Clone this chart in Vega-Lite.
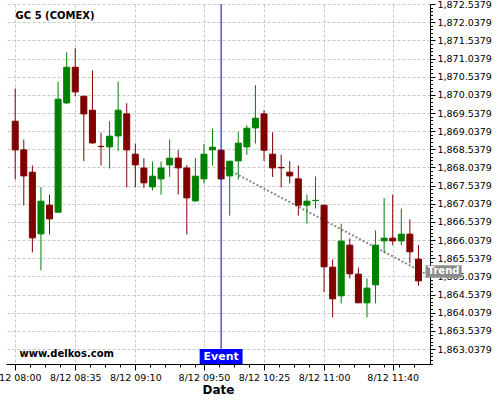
{
  "$schema": "https://vega.github.io/schema/vega-lite/v6.json",
  "width": 424,
  "height": 360,
  "autosize": {"type": "none"},
  "padding": {"left": 6, "top": 4, "right": 70, "bottom": 36},
  "background": "white",
  "config": {
    "view": {"stroke": null},
    "font": "DejaVu Sans",
    "axis": {"labelFont": "DejaVu Sans", "titleFont": "DejaVu Sans"}
  },
  "datasets": {
    "candles": [
      {"time": "2024-08-12T08:00", "open": 1869.312, "high": 1870.212, "low": 1867.707, "close": 1868.522},
      {"time": "2024-08-12T08:05", "open": 1868.522, "high": 1868.808, "low": 1866.992, "close": 1867.806},
      {"time": "2024-08-12T08:10", "open": 1867.908, "high": 1868.093, "low": 1865.698, "close": 1866.100},
      {"time": "2024-08-12T08:15", "open": 1866.210, "high": 1867.495, "low": 1865.203, "close": 1867.110},
      {"time": "2024-08-12T08:20", "open": 1867.000, "high": 1867.294, "low": 1866.193, "close": 1866.623},
      {"time": "2024-08-12T08:25", "open": 1866.807, "high": 1870.405, "low": 1866.788, "close": 1869.918},
      {"time": "2024-08-12T08:30", "open": 1869.816, "high": 1871.211, "low": 1869.788, "close": 1870.798},
      {"time": "2024-08-12T08:35", "open": 1870.798, "high": 1871.321, "low": 1870.000, "close": 1870.119},
      {"time": "2024-08-12T08:40", "open": 1870.000, "high": 1870.000, "low": 1868.211, "close": 1869.513},
      {"time": "2024-08-12T08:45", "open": 1869.615, "high": 1870.708, "low": 1868.687, "close": 1868.715},
      {"time": "2024-08-12T08:50", "open": 1868.620, "high": 1869.001, "low": 1868.093, "close": 1868.612},
      {"time": "2024-08-12T08:55", "open": 1868.605, "high": 1869.312, "low": 1868.010, "close": 1868.899},
      {"time": "2024-08-12T09:00", "open": 1868.907, "high": 1870.405, "low": 1868.495, "close": 1869.615},
      {"time": "2024-08-12T09:05", "open": 1869.513, "high": 1869.807, "low": 1867.487, "close": 1868.522},
      {"time": "2024-08-12T09:10", "open": 1868.404, "high": 1868.698, "low": 1867.487, "close": 1868.109},
      {"time": "2024-08-12T09:15", "open": 1868.023, "high": 1868.294, "low": 1867.476, "close": 1867.614},
      {"time": "2024-08-12T09:20", "open": 1867.504, "high": 1868.203, "low": 1867.405, "close": 1867.798},
      {"time": "2024-08-12T09:25", "open": 1867.724, "high": 1868.203, "low": 1867.289, "close": 1868.023},
      {"time": "2024-08-12T09:30", "open": 1868.109, "high": 1868.808, "low": 1867.779, "close": 1868.294},
      {"time": "2024-08-12T09:35", "open": 1868.294, "high": 1868.514, "low": 1867.294, "close": 1868.027},
      {"time": "2024-08-12T09:40", "open": 1868.023, "high": 1868.101, "low": 1866.193, "close": 1867.201},
      {"time": "2024-08-12T09:45", "open": 1867.118, "high": 1868.294, "low": 1867.091, "close": 1867.798},
      {"time": "2024-08-12T09:50", "open": 1867.724, "high": 1868.693, "low": 1867.597, "close": 1868.404},
      {"time": "2024-08-12T09:55", "open": 1868.522, "high": 1869.111, "low": 1868.093, "close": 1868.596},
      {"time": "2024-08-12T10:00", "open": 1868.514, "high": 1868.514, "low": 1867.700, "close": 1867.724},
      {"time": "2024-08-12T10:05", "open": 1867.806, "high": 1868.211, "low": 1866.711, "close": 1868.211},
      {"time": "2024-08-12T10:10", "open": 1868.219, "high": 1869.018, "low": 1867.707, "close": 1868.707},
      {"time": "2024-08-12T10:15", "open": 1868.605, "high": 1869.202, "low": 1868.390, "close": 1869.119},
      {"time": "2024-08-12T10:20", "open": 1869.128, "high": 1870.303, "low": 1868.698, "close": 1869.395},
      {"time": "2024-08-12T10:25", "open": 1869.513, "high": 1869.615, "low": 1868.219, "close": 1868.514},
      {"time": "2024-08-12T10:30", "open": 1868.404, "high": 1869.009, "low": 1867.779, "close": 1868.027},
      {"time": "2024-08-12T10:35", "open": 1868.038, "high": 1868.390, "low": 1867.487, "close": 1868.030},
      {"time": "2024-08-12T10:40", "open": 1867.908, "high": 1868.211, "low": 1867.597, "close": 1867.806},
      {"time": "2024-08-12T10:45", "open": 1867.724, "high": 1868.093, "low": 1866.711, "close": 1867.000},
      {"time": "2024-08-12T10:50", "open": 1867.000, "high": 1867.294, "low": 1866.491, "close": 1867.110},
      {"time": "2024-08-12T10:55", "open": 1867.125, "high": 1867.790, "low": 1866.909, "close": 1867.133},
      {"time": "2024-08-12T11:00", "open": 1867.000, "high": 1867.000, "low": 1864.605, "close": 1865.302},
      {"time": "2024-08-12T11:05", "open": 1865.293, "high": 1865.505, "low": 1863.909, "close": 1864.421},
      {"time": "2024-08-12T11:10", "open": 1864.503, "high": 1866.491, "low": 1864.294, "close": 1866.009},
      {"time": "2024-08-12T11:15", "open": 1865.899, "high": 1866.083, "low": 1864.982, "close": 1865.109},
      {"time": "2024-08-12T11:20", "open": 1865.101, "high": 1865.285, "low": 1864.311, "close": 1864.311},
      {"time": "2024-08-12T11:25", "open": 1864.311, "high": 1864.982, "low": 1863.909, "close": 1864.715},
      {"time": "2024-08-12T11:30", "open": 1864.806, "high": 1866.304, "low": 1864.294, "close": 1865.899},
      {"time": "2024-08-12T11:35", "open": 1866.017, "high": 1867.193, "low": 1865.687, "close": 1866.092},
      {"time": "2024-08-12T11:40", "open": 1866.092, "high": 1867.294, "low": 1865.899, "close": 1866.017},
      {"time": "2024-08-12T11:45", "open": 1866.017, "high": 1866.909, "low": 1865.899, "close": 1866.202},
      {"time": "2024-08-12T11:50", "open": 1866.202, "high": 1866.606, "low": 1865.395, "close": 1865.715},
      {"time": "2024-08-12T11:55", "open": 1865.514, "high": 1865.899, "low": 1864.779, "close": 1864.916}
    ],
    "trend": [
      {"time": "2024-08-12T10:00", "trend": 1868.079},
      {"time": "2024-08-12T11:58:49", "trend": 1865.12}
    ]
  },
  "layer": [
    {
      "data": {"name": "trend"},
      "mark": {"type": "line", "color": "#8a8a8a", "strokeWidth": 2, "strokeDash": [2, 2]},
      "encoding": {
        "x": {"field": "time", "type": "temporal", "title": "Date",
          "scale": {"domain": [{"year": 2024, "month": 8, "date": 12, "hours": 7, "minutes": 57, "seconds": 33}, {"year": 2024, "month": 8, "date": 12, "hours": 11, "minutes": 58, "seconds": 49}]}},
        "y": {"field": "trend", "type": "quantitative", "title": null,
          "scale": {"domain": [1862.626, 1872.54], "nice": false, "zero": false}}
      }
    },
    {
      "data": {"name": "candles"},
      "mark": {"type": "rule", "strokeWidth": 1},
      "encoding": {
        "x": {"field": "time", "type": "temporal", "title": "Date",
          "scale": {"domain": [{"year": 2024, "month": 8, "date": 12, "hours": 7, "minutes": 57, "seconds": 33}, {"year": 2024, "month": 8, "date": 12, "hours": 11, "minutes": 58, "seconds": 49}]},
          "axis": {
            "values": [
              {"year": 2024, "month": 8, "date": 12, "hours": 8, "minutes": 0},
              {"year": 2024, "month": 8, "date": 12, "hours": 8, "minutes": 8, "seconds": 45},
              {"year": 2024, "month": 8, "date": 12, "hours": 8, "minutes": 17, "seconds": 30},
              {"year": 2024, "month": 8, "date": 12, "hours": 8, "minutes": 26, "seconds": 15},
              {"year": 2024, "month": 8, "date": 12, "hours": 8, "minutes": 35},
              {"year": 2024, "month": 8, "date": 12, "hours": 8, "minutes": 43, "seconds": 45},
              {"year": 2024, "month": 8, "date": 12, "hours": 8, "minutes": 52, "seconds": 30},
              {"year": 2024, "month": 8, "date": 12, "hours": 9, "minutes": 1, "seconds": 15},
              {"year": 2024, "month": 8, "date": 12, "hours": 9, "minutes": 10},
              {"year": 2024, "month": 8, "date": 12, "hours": 9, "minutes": 18, "seconds": 45},
              {"year": 2024, "month": 8, "date": 12, "hours": 9, "minutes": 27, "seconds": 30},
              {"year": 2024, "month": 8, "date": 12, "hours": 9, "minutes": 36, "seconds": 15},
              {"year": 2024, "month": 8, "date": 12, "hours": 9, "minutes": 45},
              {"year": 2024, "month": 8, "date": 12, "hours": 9, "minutes": 50},
              {"year": 2024, "month": 8, "date": 12, "hours": 9, "minutes": 58, "seconds": 45},
              {"year": 2024, "month": 8, "date": 12, "hours": 10, "minutes": 7, "seconds": 30},
              {"year": 2024, "month": 8, "date": 12, "hours": 10, "minutes": 16, "seconds": 15},
              {"year": 2024, "month": 8, "date": 12, "hours": 10, "minutes": 25},
              {"year": 2024, "month": 8, "date": 12, "hours": 10, "minutes": 33, "seconds": 45},
              {"year": 2024, "month": 8, "date": 12, "hours": 10, "minutes": 42, "seconds": 30},
              {"year": 2024, "month": 8, "date": 12, "hours": 10, "minutes": 51, "seconds": 15},
              {"year": 2024, "month": 8, "date": 12, "hours": 11, "minutes": 0},
              {"year": 2024, "month": 8, "date": 12, "hours": 11, "minutes": 8, "seconds": 45},
              {"year": 2024, "month": 8, "date": 12, "hours": 11, "minutes": 17, "seconds": 30},
              {"year": 2024, "month": 8, "date": 12, "hours": 11, "minutes": 26, "seconds": 15},
              {"year": 2024, "month": 8, "date": 12, "hours": 11, "minutes": 35},
              {"year": 2024, "month": 8, "date": 12, "hours": 11, "minutes": 40},
              {"year": 2024, "month": 8, "date": 12, "hours": 11, "minutes": 43, "seconds": 45},
              {"year": 2024, "month": 8, "date": 12, "hours": 11, "minutes": 52, "seconds": 30}
            ],
            "tickCount": 1000,
            "labelExpr": "indexof([0,35,70,110,145,180,220], round((datum.value - datetime(2024,7,12,8,0))/60000)) >= 0 ? timeFormat(datum.value, '%-m/%d %H:%M') : ''",
            "tickSize": {"condition": {"test": "indexof([0,35,70,110,145,180,220], round((datum.value - datetime(2024,7,12,8,0))/60000)) >= 0", "value": 6}, "value": 3},
            "grid": true,
            "gridOpacity": {"condition": {"test": "indexof([0,35,70,110,145,180,220], round((datum.value - datetime(2024,7,12,8,0))/60000)) >= 0", "value": 1}, "value": 0},
            "gridColor": "#c8c8c8",
            "gridDash": [3, 2],
            "labelOverlap": false,
            "labelFlush": false,
            "labelFontSize": 9.5,
            "labelColor": "black",
            "labelPadding": 2,
            "titleFontSize": 12,
            "titleFontWeight": "bold",
            "titleColor": "black",
            "titlePadding": 3,
            "domainColor": "black",
            "tickColor": "black"
          }},
        "y": {"field": "high", "type": "quantitative", "title": null,
          "scale": {"domain": [1862.626, 1872.54], "nice": false, "zero": false},
          "axis": {
            "orient": "right",
            "zindex": 0,
            "values": [1862.6379,1862.7379,1862.8379,1862.9379,
              1863.0379,1863.1379,1863.2379,1863.3379,1863.4379,1863.5379,1863.6379,1863.7379,1863.8379,1863.9379,
              1864.0379,1864.1379,1864.2379,1864.3379,1864.4379,1864.5379,1864.6379,1864.7379,1864.8379,1864.9379,
              1865.0379,1865.1379,1865.2379,1865.3379,1865.4379,1865.5379,1865.6379,1865.7379,1865.8379,1865.9379,
              1866.0379,1866.1379,1866.2379,1866.3379,1866.4379,1866.5379,1866.6379,1866.7379,1866.8379,1866.9379,
              1867.0379,1867.1379,1867.2379,1867.3379,1867.4379,1867.5379,1867.6379,1867.7379,1867.8379,1867.9379,
              1868.0379,1868.1379,1868.2379,1868.3379,1868.4379,1868.5379,1868.6379,1868.7379,1868.8379,1868.9379,
              1869.0379,1869.1379,1869.2379,1869.3379,1869.4379,1869.5379,1869.6379,1869.7379,1869.8379,1869.9379,
              1870.0379,1870.1379,1870.2379,1870.3379,1870.4379,1870.5379,1870.6379,1870.7379,1870.8379,1870.9379,
              1871.0379,1871.1379,1871.2379,1871.3379,1871.4379,1871.5379,1871.6379,1871.7379,1871.8379,1871.9379,
              1872.0379,1872.1379,1872.2379,1872.3379,1872.4379,1872.5379],
            "tickCount": 1000,
            "labelExpr": "abs(2*datum.value - 0.0758 - round(2*datum.value - 0.0758)) < 0.02 ? format(datum.value, ',.4f') : ''",
            "tickSize": {"condition": {"test": "abs(2*datum.value - 0.0758 - round(2*datum.value - 0.0758)) < 0.02", "value": 5}, "value": 2.5},
            "grid": true,
            "gridOpacity": {"condition": {"test": "abs(2*datum.value - 0.0758 - round(2*datum.value - 0.0758)) < 0.02", "value": 1}, "value": 0},
            "gridColor": "#c8c8c8",
            "gridDash": [3, 2],
            "labelOverlap": false,
            "labelFlush": false,
            "labelFontSize": 9.5,
            "labelColor": "black",
            "labelPadding": 2,
            "domainColor": "black",
            "tickColor": "black"
          }},
        "y2": {"field": "low"},
        "color": {"condition": {"test": "datum.close >= datum.open", "value": "#008000"}, "value": "#800000"}
      }
    },
    {
      "data": {"name": "candles"},
      "mark": {"type": "bar", "size": 6, "strokeWidth": 1, "orient": "vertical"},
      "encoding": {
        "x": {"field": "time", "type": "temporal", "title": "Date"},
        "y": {"field": "open", "type": "quantitative", "title": null},
        "y2": {"field": "close"},
        "fill": {"condition": {"test": "datum.close >= datum.open", "value": "#008000"}, "value": "#800000"},
        "stroke": {"condition": {"test": "datum.close >= datum.open", "value": "#008000"}, "value": "#800000"}
      }
    },
    {
      "data": {"values": [{"event": "Event"}]},
      "mark": {"type": "rule", "color": "#0000cc", "strokeWidth": 1},
      "encoding": {
        "x": {"datum": {"year": 2024, "month": 8, "date": 12, "hours": 10, "minutes": 0}, "type": "temporal", "title": "Date"}
      }
    },
    {
      "data": {"values": [{"event": "Event"}]},
      "mark": {"type": "rect", "color": "#0000ff"},
      "encoding": {
        "x": {"datum": {"year": 2024, "month": 8, "date": 12, "hours": 9, "minutes": 47, "seconds": 30}, "type": "temporal", "title": "Date"},
        "x2": {"datum": {"year": 2024, "month": 8, "date": 12, "hours": 10, "minutes": 12, "seconds": 30}},
        "y": {"datum": 1863.036, "type": "quantitative", "title": null},
        "y2": {"datum": 1862.626}
      }
    },
    {
      "data": {"values": [{"event": "Event"}]},
      "mark": {"type": "text", "color": "white", "font": "DejaVu Sans", "fontWeight": "bold", "fontSize": 11, "baseline": "middle", "align": "center"},
      "encoding": {
        "x": {"datum": {"year": 2024, "month": 8, "date": 12, "hours": 10, "minutes": 0}, "type": "temporal", "title": "Date"},
        "y": {"datum": 1862.816, "type": "quantitative", "title": null},
        "text": {"field": "event"}
      }
    },
    {
      "data": {"values": [{"label": "Trend"}]},
      "mark": {"type": "rect", "color": "#8c8c8c"},
      "encoding": {
        "x": {"datum": {"year": 2024, "month": 8, "date": 12, "hours": 11, "minutes": 59, "seconds": 6}, "type": "temporal", "title": "Date"},
        "x2": {"datum": {"year": 2024, "month": 8, "date": 12, "hours": 12, "minutes": 20, "seconds": 10}},
        "y": {"datum": 1865.348, "type": "quantitative", "title": null},
        "y2": {"datum": 1865.004}
      }
    },
    {
      "data": {"values": [{"label": "Trend"}]},
      "mark": {"type": "text", "color": "white", "font": "DejaVu Sans", "fontWeight": "bold", "fontSize": 10, "baseline": "middle", "align": "center"},
      "encoding": {
        "x": {"datum": {"year": 2024, "month": 8, "date": 12, "hours": 12, "minutes": 9, "seconds": 38}, "type": "temporal", "title": "Date"},
        "y": {"datum": 1865.176, "type": "quantitative", "title": null},
        "text": {"field": "label"}
      }
    },
    {
      "data": {"values": [{"label": "GC 5 (COMEX)"}]},
      "mark": {"type": "text", "color": "black", "font": "DejaVu Sans", "fontWeight": "bold", "fontSize": 10, "baseline": "alphabetic", "align": "left"},
      "encoding": {
        "x": {"datum": {"year": 2024, "month": 8, "date": 12, "hours": 8, "minutes": 0, "seconds": 14}, "type": "temporal", "title": "Date"},
        "y": {"datum": 1872.12, "type": "quantitative", "title": null},
        "text": {"field": "label"}
      }
    },
    {
      "data": {"values": [{"label": "www.delkos.com"}]},
      "mark": {"type": "text", "color": "black", "font": "DejaVu Sans", "fontWeight": "bold", "fontSize": 10, "baseline": "alphabetic", "align": "left"},
      "encoding": {
        "x": {"datum": {"year": 2024, "month": 8, "date": 12, "hours": 8, "minutes": 2, "seconds": 30}, "type": "temporal", "title": "Date"},
        "y": {"datum": 1862.824, "type": "quantitative", "title": null},
        "text": {"field": "label"}
      }
    }
  ]
}
